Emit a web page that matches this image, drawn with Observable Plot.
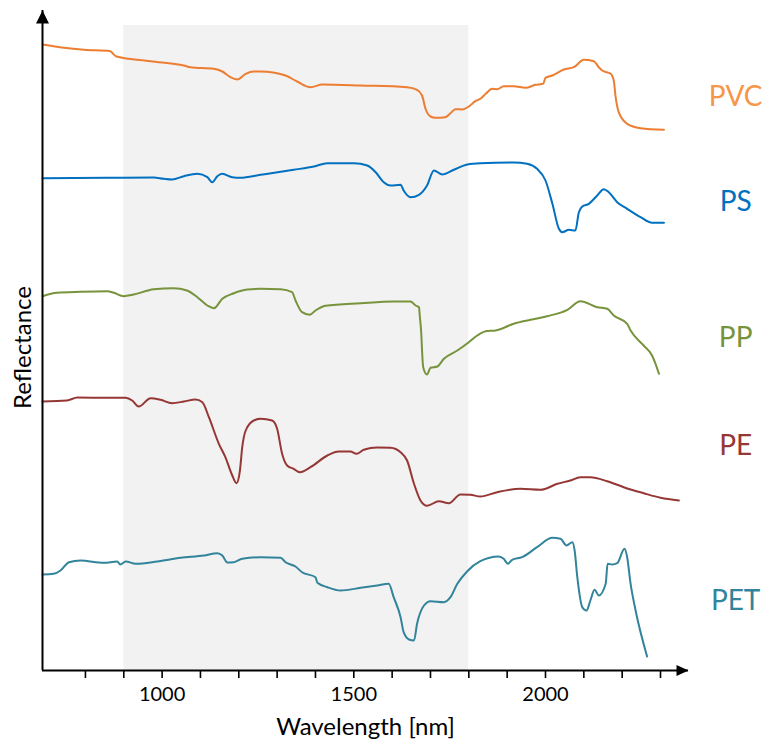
<!DOCTYPE html>
<html>
<head>
<meta charset="utf-8">
<script src="https://cdn.jsdelivr.net/npm/d3@7"></script>
<script src="https://cdn.jsdelivr.net/npm/@observablehq/plot@0.6"></script>
<style>
  html, body { margin: 0; padding: 0; background: #fff; }
  #chart { width: 762px; height: 740px; }
</style>
</head>
<body>
<div id="chart"></div>
<script>
// ---- Data (wavelength [nm], stacked reflectance in arbitrary units) ----
const pvc = [[688,626],[744,622.7],[796,620.7],[865,619.3],[872,616.7],[881,614],[970,609.3],[1057,605],[1074,603.3],[1135,601.7],[1157,599],[1178,593.3],[1196,591],[1218,596.7],[1239,599],[1257,599],[1322,595],[1352,589],[1387,583.3],[1418,586],[1518,585],[1639,583.3],[1665,580.7],[1678,575],[1687,561.7],[1700,554],[1713,552.7],[1739,553.3],[1752,557.3],[1765,561.3],[1783,561],[1800,564],[1817,569.3],[1830,571.7],[1844,576.7],[1861,581.7],[1874,581.3],[1891,584.3],[1917,584.3],[1948,582.7],[1974,585.7],[1994,586.7],[2000,592.7],[2018,595],[2048,601],[2074,603.3],[2100,610.7],[2126,609.3],[2139,603.3],[2148,600],[2170,596.7],[2178,590],[2183,573.3],[2191,558.3],[2213,546.7],[2248,542.3],[2309,540.7]];
const ps = [[688,492.3],[857,492.7],[978,493],[1004,491.7],[1026,491],[1057,494.3],[1092,496.7],[1118,493.3],[1131,488.3],[1144,494.3],[1157,496.7],[1183,493.3],[1204,492.7],[1257,495.7],[1343,500.7],[1396,504],[1431,507.3],[1500,507.3],[1535,505],[1557,498.3],[1578,488.3],[1596,485],[1622,485.7],[1630,480],[1648,473.3],[1670,475.7],[1691,485],[1709,500],[1731,496],[1761,500.7],[1796,506],[1830,507.3],[1917,508],[1952,506.7],[1978,501.7],[2000,490],[2018,466.7],[2035,441.7],[2044,438.3],[2061,440.7],[2078,440],[2087,458.3],[2096,464],[2113,466.7],[2135,475],[2152,481.3],[2165,478.3],[2187,468.3],[2213,461.7],[2248,453.3],[2278,447.7],[2309,447.7]];
const pp = [[688,374.3],[726,377.7],[787,378.7],[857,379.3],[874,377.7],[900,374.3],[926,376],[978,381.3],[1030,382.3],[1065,380],[1092,373.3],[1118,365],[1135,362.3],[1157,371.7],[1187,377.3],[1222,381],[1257,381.7],[1309,381.3],[1339,378.3],[1348,370],[1365,358.3],[1385,355.7],[1400,360],[1426,364.7],[1518,367.3],[1604,369],[1648,369],[1661,365],[1670,363.3],[1672,355],[1676,336.7],[1678,320],[1681,303.3],[1691,296],[1700,302.7],[1718,304],[1735,311.7],[1770,320],[1800,328.3],[1822,335],[1844,339.3],[1870,340],[1917,346.7],[1961,350.7],[2004,354.3],[2057,360.7],[2091,369.3],[2135,363.3],[2161,361.7],[2178,355],[2213,346.7],[2222,340],[2256,325],[2278,315],[2287,306.7],[2296,296.7]];
const pe = [[688,269],[752,270],[779,273],[857,272.7],[905,272.7],[922,270],[939,264],[970,272.3],[996,270.7],[1026,267.3],[1057,269],[1087,271],[1105,268.3],[1122,253.3],[1148,226.7],[1165,213.3],[1183,195],[1194,187.3],[1203,200],[1209,223.3],[1218,240],[1239,250],[1257,251.7],[1287,250],[1300,241.7],[1313,216.7],[1326,205],[1343,201.7],[1359,198.3],[1387,203.3],[1431,215],[1461,219],[1491,219],[1507,216.7],[1526,220.7],[1561,223],[1596,222.7],[1622,218.3],[1639,210],[1657,186.7],[1674,170],[1691,164.7],[1722,169.3],[1748,167.3],[1778,176],[1804,175.7],[1830,174],[1874,178.3],[1935,181.7],[1987,180.7],[2031,186.7],[2065,190],[2091,193.3],[2117,193.3],[2161,189.3],[2204,183.3],[2256,177.3],[2300,172.7],[2348,170]];
const pet = [[688,96],[717,96.7],[735,100],[757,108.3],[787,110],[848,107.7],[883,109],[891,106],[905,109],[931,106.7],[987,109],[1048,112.7],[1109,115],[1144,117.3],[1157,115],[1170,108],[1187,108.3],[1209,111.7],[1257,113.3],[1309,112.7],[1322,108.3],[1348,104],[1365,98.3],[1400,93.3],[1405,87.7],[1431,83.3],[1465,80],[1518,82.7],[1561,85],[1591,86.7],[1604,73.3],[1622,53.3],[1630,38.3],[1644,31],[1657,30],[1665,46.7],[1683,65],[1700,69.3],[1735,68.3],[1752,73.3],[1770,86.7],[1796,99.3],[1830,109.3],[1878,114],[1891,111.7],[1902,106.7],[1913,110.7],[1939,113.3],[1978,123.3],[2018,132.7],[2039,131.7],[2055,125],[2070,128.3],[2076,120],[2083,93.3],[2096,63.3],[2107,60],[2117,70],[2128,80.7],[2139,75],[2157,86.7],[2162,106.7],[2174,106],[2187,107.3],[2206,121.7],[2213,113.3],[2222,86.7],[2235,60],[2265,14]];

const seriesNames = ["PVC", "PS", "PP", "PE", "PET"];
const seriesData = [pvc, ps, pp, pe, pet];
const lineColors  = ["#ED7D31", "#0070C0", "#77933C", "#953735", "#31849B"];
const labelColors = ["#F79646", "#0070C0", "#77933C", "#953735", "#31849B"];
const labelLevels = [573, 468, 332, 224, 69];   // vertical level of each name label
const labelWavelength = 2496;

const xDomain = [688, 2373];
const yDomain = [0, 660];
const xTicks = [800, 900, 1000, 1100, 1200, 1300, 1400, 1500, 1600, 1700, 1800, 1900, 2000, 2100, 2200, 2300];
const xTickLabels = [1000, 1500, 2000];
const shadedBand = [{from: 900, to: 1800, top: 645}];

// ---- Build table ----
const rows = seriesNames.flatMap((name, i) =>
  seriesData[i].map(([w, r]) => ({name, w, r})));
const labels = seriesNames.map((name, i) => ({name, w: labelWavelength, r: labelLevels[i], color: labelColors[i]}));

const arrowUp = {draw(ctx) { ctx.moveTo(0, 0); ctx.lineTo(-6.5, 13); ctx.lineTo(6.5, 13); ctx.closePath(); }};
const arrowRight = {draw(ctx) { ctx.moveTo(0, 0); ctx.lineTo(-12, -5.5); ctx.lineTo(-12, 5.5); ctx.closePath(); }};

const FONT = "Lato, 'Open Sans', sans-serif";

const chart = Plot.plot({
  width: 762,
  height: 740,
  marginLeft: 42,
  marginRight: 74,
  marginTop: 10,
  marginBottom: 70,
  style: {fontFamily: FONT, fontSize: "20px", color: "#000", background: "#fff", overflow: "visible"},
  x: {domain: xDomain, axis: null},
  y: {domain: yDomain, axis: null},
  color: {domain: seriesNames, range: lineColors},
  marks: [
    Plot.rect(shadedBand, {x1: "from", x2: "to", y1: 0, y2: "top", fill: "#F2F2F2"}),
    Plot.axisX({ticks: xTicks, tickSize: 8, tickPadding: 8, strokeWidth: 1.6,
      tickFormat: d => xTickLabels.includes(d) ? String(d) : "", fontSize: 20, label: null, stroke: "#000", fill: "#000"}),
    Plot.line(rows, {x: "w", y: "r", z: "name", stroke: "name", strokeWidth: 2, curve: "monotone-x"}),
    Plot.ruleY([yDomain[0]], {stroke: "#000", strokeWidth: 2}),
    Plot.ruleX([xDomain[0]], {stroke: "#000", strokeWidth: 2}),
    Plot.dot([{x: xDomain[0], y: yDomain[1]}], {x: "x", y: "y", symbol: arrowUp, r: 5, fill: "#000", stroke: null}),
    Plot.dot([{x: xDomain[1], y: yDomain[0]}], {x: "x", y: "y", symbol: arrowRight, r: 5, fill: "#000", stroke: null}),
    Plot.text(labels, {x: "w", y: "r", text: "name", fill: "color", fontSize: 28, textAnchor: "middle"}),
    Plot.text(["Wavelength [nm]"], {frameAnchor: "bottom", lineAnchor: "middle", textAnchor: "middle", dy: 57, fontSize: 24, fill: "#000"}),
    Plot.text(["Reflectance"], {frameAnchor: "left", lineAnchor: "middle", textAnchor: "middle", rotate: -90, dx: -18.7, dy: 7, fontSize: 24, fill: "#000"})
  ]
});

document.getElementById("chart").appendChild(chart);
</script>
</body>
</html>
